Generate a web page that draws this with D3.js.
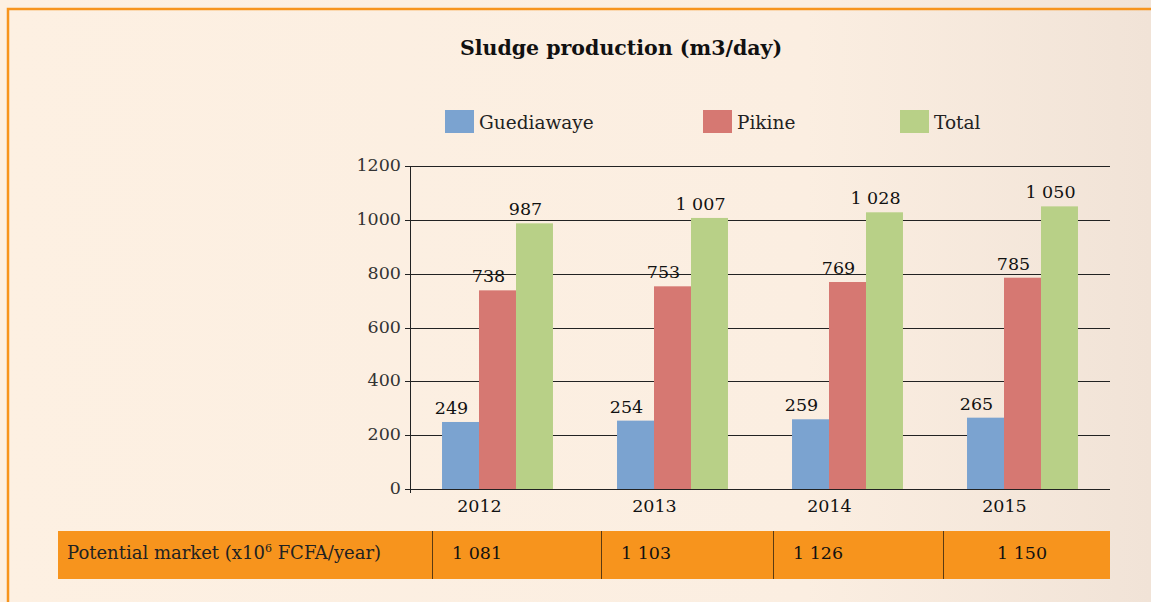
<!DOCTYPE html>
<html><head><meta charset="utf-8">
<script src="https://cdn.jsdelivr.net/npm/d3@7"></script>
<style>html,body{margin:0;padding:0;background:#fdf0e2;}svg{display:block}</style>
</head><body>
<svg id="c" width="1151" height="602"></svg>
<script>
const years = ["2012","2013","2014","2015"];
const seriesNames = ["Guediawaye","Pikine","Total"];
const guediawaye = [249,254,259,265];
const pikine = [738,753,769,785];
const total = [987,1007,1028,1050];
const yTicks = [0,200,400,600,800,1000,1200];
const marketLabel = "Potential market (x10";
const marketValues = ["1 081","1 103","1 126","1 150"];
const colors = ["#7ba3d0","#d67872","#b8d087"];

const svg = d3.select("#c");
const W=1151,H=602;
const defs = svg.append("defs");
const g0 = defs.append("linearGradient").attr("id","bg").attr("x1","0").attr("x2","1").attr("y1","0").attr("y2","0");
g0.append("stop").attr("offset","0").attr("stop-color","#fdf0e2");
g0.append("stop").attr("offset","0.7").attr("stop-color","#fbeee1");
g0.append("stop").attr("offset","1").attr("stop-color","#f1e3d7");
svg.append("rect").attr("width",W).attr("height",H).attr("fill","url(#bg)");
svg.append("path").attr("d","M8,602 L8,9 L1151,9").attr("fill","none").attr("stroke","#f7941d").attr("stroke-width",2.5);

const font = "'DejaVu Serif', serif";
const pL=410,pR=1110,pT=166,pB=489;
const x = d3.scaleBand().domain(years).range([pL,pR]).paddingInner(0.366).paddingOuter(0.183);
const xs = d3.scaleBand().domain(seriesNames).range([0,x.bandwidth()]);
const y = d3.scaleLinear().domain([0,1200]).range([pB,pT]);

svg.append("text").attr("x",621).attr("y",55).attr("text-anchor","middle")
  .attr("font-family",font).attr("font-weight","bold").attr("font-size",20.5).attr("fill","#111")
  .text("Sludge production (m3/day)");

const legX = [445,703,900];
seriesNames.forEach((n,i)=>{
  svg.append("rect").attr("x",legX[i]).attr("y",110).attr("width",29).attr("height",23).attr("fill",colors[i]);
  svg.append("text").attr("x",legX[i]+34).attr("y",129).attr("font-family",font).attr("font-size",18.5).attr("fill","#222").text(n);
});

svg.append("g").selectAll("line").data(yTicks).join("line")
  .attr("x1",pL-5).attr("x2",pR).attr("y1",d=>Math.round(y(d))+0.5).attr("y2",d=>Math.round(y(d))+0.5)
  .attr("stroke","#222").attr("stroke-width",1);
svg.append("line").attr("x1",pL+0.5).attr("x2",pL+0.5).attr("y1",pT).attr("y2",pB+4).attr("stroke","#222");
svg.append("g").selectAll("text").data(yTicks).join("text")
  .attr("x",pL-9).attr("y",d=>y(d)+5).attr("text-anchor","end")
  .attr("font-family",font).attr("font-size",17.5).attr("fill","#333").text(d=>d);

const fmt = v => { const s=String(v); return s.length>3 ? s.slice(0,s.length-3)+" "+s.slice(-3) : s; };
const data = [guediawaye,pikine,total];
data.forEach((arr,si)=>{
  const gg = svg.append("g");
  gg.selectAll("rect").data(arr).join("rect")
    .attr("x",(d,i)=>x(years[i])+xs(seriesNames[si])).attr("width",xs.bandwidth())
    .attr("y",d=>y(d)).attr("height",d=>pB-y(d)).attr("fill",colors[si]);
  gg.selectAll("text").data(arr).join("text")
    .attr("x",(d,i)=>x(years[i])+xs(seriesNames[si])+xs.bandwidth()/2-9).attr("y",d=>y(d)-8)
    .attr("text-anchor","middle").attr("font-family",font).attr("font-size",17.5).attr("fill","#111")
    .text(d=>fmt(d));
});

svg.append("g").selectAll("text").data(years).join("text")
  .attr("x",d=>x(d)+x.bandwidth()/2-18).attr("y",512).attr("text-anchor","middle")
  .attr("font-family",font).attr("font-size",17.5).attr("fill","#111").text(d=>d);

const tTop=531,tBot=579;
svg.append("rect").attr("x",58).attr("y",tTop).attr("width",pR-58).attr("height",tBot-tTop).attr("fill","#f7941d");
const dividers=[432,601,773,943];
svg.append("g").selectAll("line").data(dividers).join("line")
  .attr("x1",d=>d+0.5).attr("x2",d=>d+0.5).attr("y1",tTop).attr("y2",tBot).attr("stroke","#5a3a12").attr("stroke-width",1);
const lab = svg.append("text").attr("x",67).attr("y",559).attr("font-family",font).attr("font-size",18).attr("fill","#222");
lab.append("tspan").text(marketLabel);
lab.append("tspan").attr("dy",-7).attr("font-size",11).text("6");
lab.append("tspan").attr("dy",7).text(" FCFA/year)");
const cellX=[452,621,793,997];
svg.append("g").selectAll("text").data(marketValues).join("text")
  .attr("x",(d,i)=>cellX[i]).attr("y",559).attr("font-family",font).attr("font-size",17.5).attr("fill","#111").text(d=>d);
</script>
</body></html>
